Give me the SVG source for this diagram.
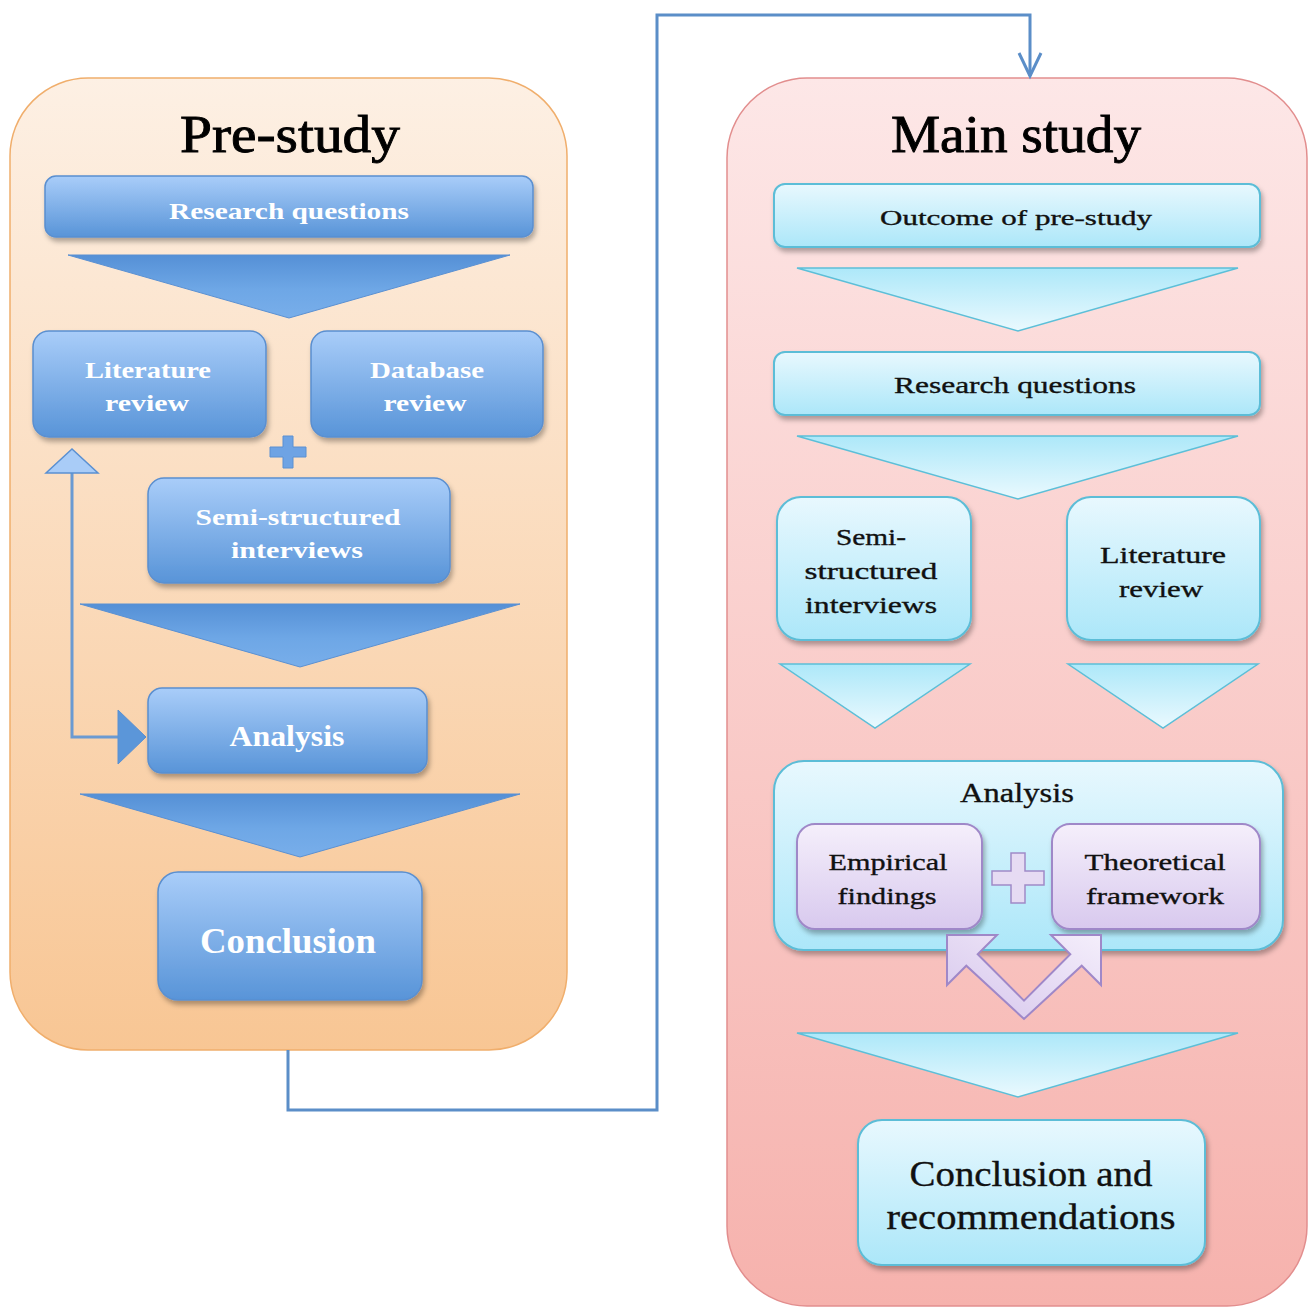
<svg xmlns="http://www.w3.org/2000/svg" width="1309" height="1308" viewBox="0 0 1309 1308">
  <defs>
    <linearGradient id="gPanelL" x1="0" y1="0" x2="0" y2="1">
      <stop offset="0" stop-color="#fdf0e4"/>
      <stop offset="1" stop-color="#f8c694"/>
    </linearGradient>
    <linearGradient id="gPanelR" x1="0" y1="0" x2="0" y2="1">
      <stop offset="0" stop-color="#fde7e7"/>
      <stop offset="1" stop-color="#f6b2ad"/>
    </linearGradient>
    <linearGradient id="gBlue" x1="0" y1="0" x2="0" y2="1">
      <stop offset="0" stop-color="#a9cdf9"/>
      <stop offset="1" stop-color="#5894d8"/>
    </linearGradient>
    <linearGradient id="gBlueTri" x1="0" y1="0" x2="0" y2="1">
      <stop offset="0" stop-color="#5590d6"/>
      <stop offset="0.55" stop-color="#6ea7e6"/>
      <stop offset="1" stop-color="#78aeea"/>
    </linearGradient>
    <linearGradient id="gCyan" x1="0" y1="0" x2="0" y2="1">
      <stop offset="0" stop-color="#e8f8fe"/>
      <stop offset="1" stop-color="#ace7f9"/>
    </linearGradient>
    <linearGradient id="gCyanTri" x1="0" y1="0" x2="0" y2="1">
      <stop offset="0" stop-color="#ade8f9"/>
      <stop offset="1" stop-color="#eaf9fe"/>
    </linearGradient>
    <linearGradient id="gPurple" x1="0" y1="0" x2="0" y2="1">
      <stop offset="0" stop-color="#f5effb"/>
      <stop offset="1" stop-color="#d8c9ee"/>
    </linearGradient>
    <linearGradient id="gPurpleV" x1="0" y1="1" x2="1" y2="0">
      <stop offset="0" stop-color="#d6c6ec"/>
      <stop offset="1" stop-color="#f4eefb"/>
    </linearGradient>
    <filter id="shadow" x="-10%" y="-10%" width="125%" height="135%">
      <feDropShadow dx="2" dy="4" stdDeviation="2.5" flood-color="#000" flood-opacity="0.3"/>
    </filter>
  </defs>
  <style>
    .panelL { fill: url(#gPanelL); stroke: #f0ae6c; stroke-width: 1.5; }
    .panelR { fill: url(#gPanelR); stroke: #e28e8e; stroke-width: 1.5; }
    .title { font-family: "Liberation Serif", serif; font-size: 52px; fill: #000; stroke: #000; stroke-width: 0.9; text-anchor: middle; }
    .bbox { fill: url(#gBlue); stroke: #5a8fd0; stroke-width: 1.5; filter: url(#shadow); }
    .btri { fill: url(#gBlueTri); stroke: #5a90d2; stroke-width: 1; }
    .cbox { fill: url(#gCyan); stroke: #5bbdd7; stroke-width: 2; filter: url(#shadow); }
    .ctri { fill: url(#gCyanTri); stroke: #5cbfd8; stroke-width: 1.5; }
    .pbox { fill: url(#gPurple); stroke: #9f88c8; stroke-width: 2; filter: url(#shadow); }
    .wt { font-family: "Liberation Serif", serif; fill: #fff; text-anchor: middle; font-weight: bold; }
    .dt { font-family: "Liberation Serif", serif; fill: #111; stroke: #111; stroke-width: 0.35; text-anchor: middle; }
    .conn { fill: none; stroke: #5b8ec8; stroke-width: 3; }
  </style>

  <rect width="1309" height="1308" fill="#fff"/>

  <!-- Pre-study panel -->
  <g id="pre-study">
    <rect class="panelL" x="10" y="78" width="557" height="972" rx="78"/>
    <text class="title" x="290" y="152" textLength="220" lengthAdjust="spacingAndGlyphs">Pre-study</text>
  </g>

  <!-- Main study panel -->
  <g id="main-study">
    <rect class="panelR" x="727" y="78" width="580" height="1228" rx="80"/>
    <text class="title" x="1016" y="152" textLength="250" lengthAdjust="spacingAndGlyphs">Main study</text>
  </g>

  <!-- Connectors -->
  <g id="connectors">
    <path class="conn" d="M288,1050 V1110 H657 V15 H1030 V76"/>
    <path class="conn" d="M1019,53 L1030,76 L1041,53" stroke-linejoin="miter"/>
    <!-- feedback loop from analysis back to literature review -->
    <path fill="none" stroke="#6a9ad2" stroke-width="3" d="M72,472 V737 H122"/>
    <polygon points="46,473 98,473 72,449" fill="#a9ccf7" stroke="#5a90d2" stroke-width="1.5"/>
    <polygon points="118,710 146,737 118,764" fill="#5b96d9" stroke="#5a90d2" stroke-width="1"/>
  </g>

  <!-- Pre-study nodes -->
  <g id="pre-research-questions">
    <rect class="bbox" x="45" y="176" width="488" height="61" rx="11"/>
    <text class="wt" x="289" y="219" font-size="24" textLength="240" lengthAdjust="spacingAndGlyphs">Research questions</text>
  </g>
  <polygon class="btri" points="68,255 510,255 289,318"/>
  <g id="pre-literature-review">
    <rect class="bbox" x="33" y="331" width="233" height="106" rx="16"/>
    <text class="wt" x="148" y="378" font-size="24" textLength="126" lengthAdjust="spacingAndGlyphs">Literature</text>
    <text class="wt" x="147" y="411" font-size="24" textLength="84" lengthAdjust="spacingAndGlyphs">review</text>
  </g>
  <g id="pre-database-review">
    <rect class="bbox" x="311" y="331" width="232" height="106" rx="16"/>
    <text class="wt" x="427" y="378" font-size="24" textLength="114" lengthAdjust="spacingAndGlyphs">Database</text>
    <text class="wt" x="425" y="411" font-size="24" textLength="83" lengthAdjust="spacingAndGlyphs">review</text>
  </g>
  <path id="pre-plus" d="M283,436 h10 v11 h13 v10 h-13 v11 h-10 v-11 h-13 v-10 h13 z" fill="#6ea3e4" stroke="#5a90d2" stroke-width="1"/>
  <g id="pre-interviews">
    <rect class="bbox" x="148" y="478" width="302" height="105" rx="16"/>
    <text class="wt" x="298" y="525" font-size="24" textLength="205" lengthAdjust="spacingAndGlyphs">Semi-structured</text>
    <text class="wt" x="297" y="558" font-size="24" textLength="132" lengthAdjust="spacingAndGlyphs">interviews</text>
  </g>
  <polygon class="btri" points="80,604 520,604 300,667"/>
  <g id="pre-analysis">
    <rect class="bbox" x="148" y="688" width="279" height="85" rx="14"/>
    <text class="wt" x="287" y="746" font-size="30" textLength="115" lengthAdjust="spacingAndGlyphs">Analysis</text>
  </g>
  <polygon class="btri" points="80,794 520,794 300,857"/>
  <g id="pre-conclusion">
    <rect class="bbox" x="158" y="872" width="264" height="128" rx="20"/>
    <text class="wt" x="288" y="953" font-size="36" textLength="176" lengthAdjust="spacingAndGlyphs">Conclusion</text>
  </g>

  <!-- Main study nodes -->
  <g id="main-outcome">
    <rect class="cbox" x="774" y="184" width="486" height="63" rx="11"/>
    <text class="dt" x="1016" y="225" font-size="22" textLength="272" lengthAdjust="spacingAndGlyphs">Outcome of pre-study</text>
  </g>
  <polygon class="ctri" points="797,268 1238,268 1018,331"/>
  <g id="main-research-questions">
    <rect class="cbox" x="774" y="352" width="486" height="63" rx="11"/>
    <text class="dt" x="1015" y="393" font-size="24" textLength="242" lengthAdjust="spacingAndGlyphs">Research questions</text>
  </g>
  <polygon class="ctri" points="797,436 1238,436 1018,499"/>
  <g id="main-interviews">
    <rect class="cbox" x="777" y="497" width="194" height="143" rx="24"/>
    <text class="dt" x="871" y="545" font-size="24" textLength="70" lengthAdjust="spacingAndGlyphs">Semi-</text>
    <text class="dt" x="871" y="579" font-size="24" textLength="133" lengthAdjust="spacingAndGlyphs">structured</text>
    <text class="dt" x="871" y="613" font-size="24" textLength="132" lengthAdjust="spacingAndGlyphs">interviews</text>
  </g>
  <g id="main-literature-review">
    <rect class="cbox" x="1067" y="497" width="193" height="143" rx="24"/>
    <text class="dt" x="1163" y="563" font-size="24" textLength="126" lengthAdjust="spacingAndGlyphs">Literature</text>
    <text class="dt" x="1161" y="597" font-size="24" textLength="84" lengthAdjust="spacingAndGlyphs">review</text>
  </g>
  <polygon class="ctri" points="780,664 970,664 875,728"/>
  <polygon class="ctri" points="1068,664 1258,664 1163,728"/>
  <g id="main-analysis">
    <rect class="cbox" x="774" y="761" width="509" height="189" rx="30"/>
    <text class="dt" x="1017" y="802" font-size="28" textLength="114" lengthAdjust="spacingAndGlyphs">Analysis</text>
  </g>
  <g id="main-empirical">
    <rect class="pbox" x="797" y="824" width="185" height="105" rx="18"/>
    <text class="dt" x="888" y="870" font-size="24" textLength="119" lengthAdjust="spacingAndGlyphs">Empirical</text>
    <text class="dt" x="887" y="904" font-size="24" textLength="99" lengthAdjust="spacingAndGlyphs">findings</text>
  </g>
  <g id="main-theoretical">
    <rect class="pbox" x="1052" y="824" width="208" height="105" rx="18"/>
    <text class="dt" x="1155" y="870" font-size="24" textLength="141" lengthAdjust="spacingAndGlyphs">Theoretical</text>
    <text class="dt" x="1155" y="904" font-size="24" textLength="138" lengthAdjust="spacingAndGlyphs">framework</text>
  </g>
  <path id="main-plus" d="M1011,853 h14 v18 h19 v14 h-19 v18 h-14 v-18 h-19 v-14 h19 z" fill="#e6dbf3" stroke="#a08ac8" stroke-width="1.5"/>
  <polygon id="main-double-arrow" points="947,935 997,935 977.7,954.3 1024,1000.6 1070.3,954.3 1051,935 1101,935 1101,985 1081.7,965.7 1024,1019 966.3,965.7 947,985" fill="url(#gPurpleV)" stroke="#9f88c8" stroke-width="2" stroke-linejoin="miter"/>
  <polygon class="ctri" points="797,1033 1238,1033 1018,1097"/>
  <g id="main-conclusion">
    <rect class="cbox" x="858" y="1120" width="347" height="145" rx="24"/>
    <text class="dt" x="1031" y="1186" font-size="36" textLength="243" lengthAdjust="spacingAndGlyphs">Conclusion and</text>
    <text class="dt" x="1031" y="1229" font-size="36" textLength="289" lengthAdjust="spacingAndGlyphs">recommendations</text>
  </g>
</svg>
